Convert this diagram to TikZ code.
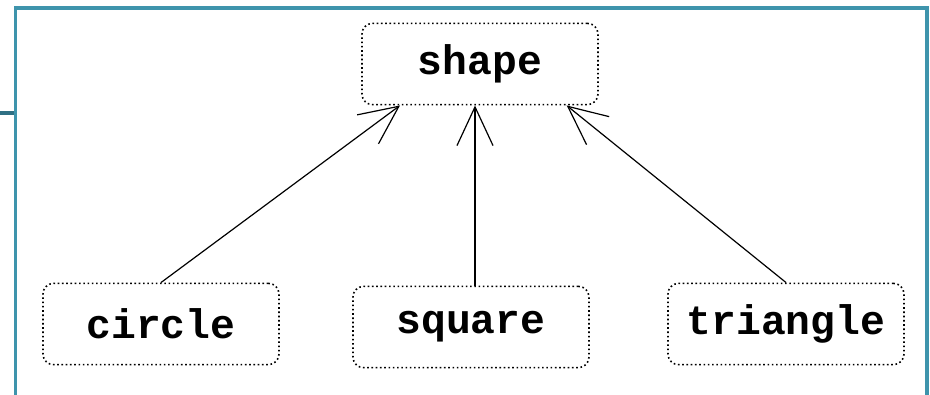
\documentclass[tikz,border=0pt]{standalone}
\usepackage{fontspec}
\setmonofont{Liberation Mono}
\usetikzlibrary{arrows.meta}

\definecolor{frameteal}{RGB}{62,148,172}
\definecolor{stubteal}{RGB}{48,112,132}

\tikzset{
  classbox/.style={draw, dotted, line width=1.2pt, rounded corners=8pt,
    minimum width=177pt, minimum height=61pt, inner sep=0pt,
    font=\ttfamily\bfseries\fontsize{31}{31}\selectfont},
  isa/.style={line width=0.9pt, -{Straight Barb[length=29pt,width=27pt,line width=0.9pt]}}
}

\begin{document}
\begin{tikzpicture}[x=0.75pt,y=0.75pt,yscale=-1,xscale=1]
\useasboundingbox (0,0) rectangle (930,394);
%Shape: Frame
\draw [frameteal, line width=2.4pt] (15.5,400) -- (15.5,8) -- (927,8) -- (927,400) ;
%Shape: Line
\draw [stubteal, line width=2.4pt] (0,113) -- (14,113) ;
%Shape: Boxes
\node [classbox] (shape) at (480,64) {shape};
\node [classbox] (circle) at (161,324) {circle};
\node [classbox] (square) at (471,327) {square};
\node [classbox] (triangle) at (786,324) {triangle};
%Straight Lines
\draw [isa] (circle.north) -- ([xshift=-60pt]shape.south) ;
\draw [isa] ([xshift=3pt]square.north) -- ([xshift=3pt]square.north |- shape.south) ;
\draw [isa] (triangle.north) -- ([xshift=65pt]shape.south) ;
\end{tikzpicture}
\end{document}
